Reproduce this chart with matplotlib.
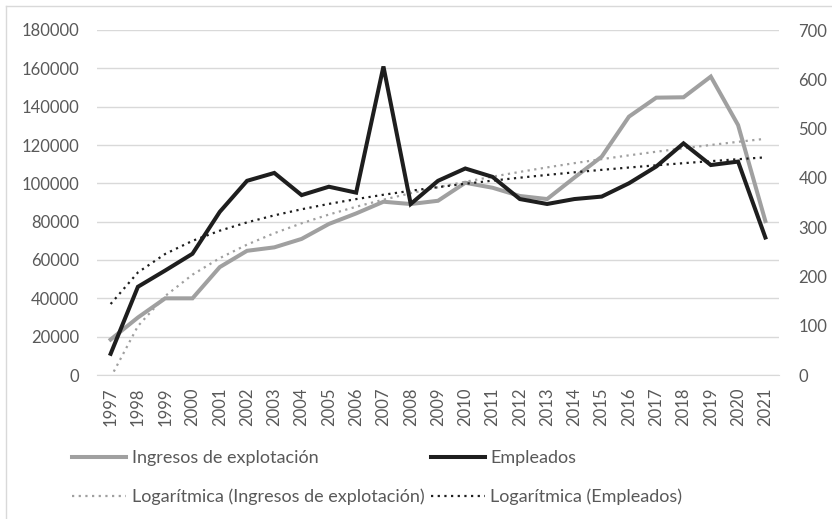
import numpy as np
import matplotlib
matplotlib.use('Agg')
import matplotlib.pyplot as plt
from matplotlib.lines import Line2D

plt.rcParams['font.family'] = ['Lato', 'DejaVu Sans']

years = [str(y) for y in range(1997, 2022)]
ingresos = [18500, 30000, 40000, 40000, 56300, 64800, 66600, 71000, 78800, 84300,
            90400, 89200, 90900, 100300, 97700, 93400, 91800, 103000, 113900, 134800,
            144700, 144900, 155700, 130400, 80300]
empleados = [43, 179, 212, 246, 331, 394, 410, 365, 382, 370,
             626, 347, 394, 419, 402, 357, 347, 357, 362, 389,
             423, 470, 426, 433, 279]

label_ing = 'Ingresos de explotación'
label_emp = 'Empleados'

# tendencias logaritmicas (como Excel: y = a*ln(x) + b, x = 1..n)
xi = np.arange(1, len(years) + 1)
a1, b1 = np.polyfit(np.log(xi), ingresos, 1)
a2, b2 = np.polyfit(np.log(xi), empleados, 1)
trend_ing = a1 * np.log(xi) + b1
trend_emp = a2 * np.log(xi) + b2

gris = '#a0a0a0'
negro = '#1e1e1e'
txt = '#595959'

fig = plt.figure(figsize=(8.32, 5.19), dpi=100, facecolor='w')
ax = fig.add_axes([97/832, 1 - 375/519, (779 - 97)/832, (375 - 30)/519])
ax2 = ax.twinx()

x = np.arange(len(years))
ax.plot(x, ingresos, color=gris, lw=2.9, solid_joinstyle='miter', zorder=3)
ax.plot(x, trend_ing, color=gris, lw=1.6, linestyle=(0, (1, 2)), zorder=3)
ax2.plot(x, empleados, color=negro, lw=2.9, solid_joinstyle='miter', zorder=3)
ax2.plot(x, trend_emp, color=negro, lw=1.6, linestyle=(0, (1, 2)), zorder=3)

ax.set_xlim(-0.5, len(years) - 0.5)
ax.set_ylim(0, 180000)
ax.set_yticks(np.arange(0, 180001, 20000))
ax2.set_ylim(0, 700)
ax2.set_yticks(np.arange(0, 701, 100))
ax.set_xticks(x)
ax.set_xticklabels(years, rotation=90)

ax.grid(axis='y', color='#d9d9d9', lw=1)
ax.set_axisbelow(True)
for a in (ax, ax2):
    for s in a.spines.values():
        s.set_visible(False)
    a.tick_params(length=0, colors=txt, labelsize=12)
ax.spines['bottom'].set_visible(True)
ax.spines['bottom'].set_color('#d9d9d9')
ax.tick_params(axis='y', pad=13)
ax2.tick_params(axis='y', pad=14)
ax.tick_params(axis='x', pad=9)

# borde del grafico
fig.add_artist(Line2D([6/832, 6/832], [0, 1 - 6/519], color='#d9d9d9', lw=1))
fig.add_artist(Line2D([6/832, 1], [1 - 6/519, 1 - 6/519], color='#d9d9d9', lw=1))

handles = [Line2D([], [], color=gris, lw=2.9),
           Line2D([], [], color=gris, lw=1.6, linestyle=(0, (1, 2))),
           Line2D([], [], color=negro, lw=2.9),
           Line2D([], [], color=negro, lw=1.6, linestyle=(0, (1, 2)))]
labels = [label_ing, 'Logarítmica (' + label_ing + ')',
          label_emp, 'Logarítmica (' + label_emp + ')']
fig.legend(handles, labels, ncol=2, frameon=False, loc='upper left',
           bbox_to_anchor=(72/832, 1 - 450/519), borderpad=0, borderaxespad=0,
           fontsize=13, labelcolor=txt, handlelength=3.0, handletextpad=0.3,
           columnspacing=0.35, labelspacing=1.25)

fig.savefig('out.png', dpi=100)
